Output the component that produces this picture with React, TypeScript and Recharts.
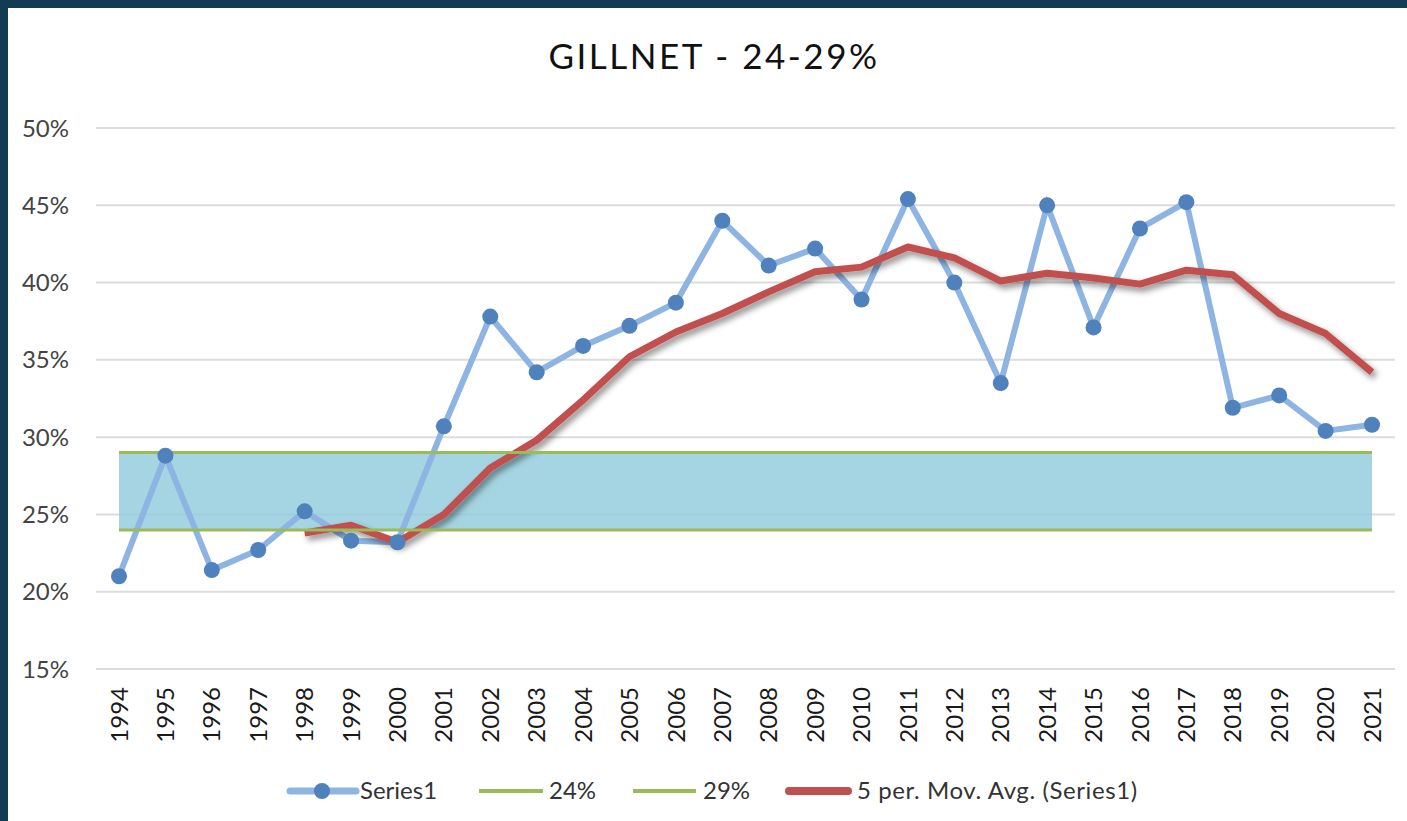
import { ComposedChart, Line, Area, XAxis, YAxis, CartesianGrid } from 'recharts';

const years = [
  '1994', '1995', '1996', '1997', '1998', '1999', '2000', '2001', '2002', '2003',
  '2004', '2005', '2006', '2007', '2008', '2009', '2010', '2011', '2012', '2013',
  '2014', '2015', '2016', '2017', '2018', '2019', '2020', '2021',
];

const series1 = [
  21.0, 28.8, 21.4, 22.7, 25.2, 23.3, 23.2, 30.7, 37.8, 34.2,
  35.9, 37.2, 38.7, 44.0, 41.1, 42.2, 38.9, 45.4, 40.0, 33.5,
  45.0, 37.1, 43.5, 45.2, 31.9, 32.7, 30.4, 30.8,
];

// 5 period moving average as drawn, first 4 years empty
const movingAvg = [
  null, null, null, null, 23.8, 24.3, 23.2, 25.0, 28.0, 29.8,
  32.4, 35.2, 36.8, 38.0, 39.4, 40.7, 41.0, 42.3, 41.6, 40.1,
  40.6, 40.3, 39.9, 40.8, 40.5, 38.0, 36.7, 34.2,
];

const low24 = years.map(() => 24);
const high29 = years.map(() => 29);

const yTicks = [15, 20, 25, 30, 35, 40, 45, 50];

const data = years.map((year, i) => ({
  year,
  s1: series1[i],
  ma: movingAvg[i],
  lo: low24[i],
  hi: high29[i],
}));

const FONT = 'Lato, "Open Sans", sans-serif';

const YearTick = ({ x, y, payload }: any) => (
  <text
    x={x}
    y={y}
    transform={`rotate(-90, ${x}, ${y})`}
    textAnchor="end"
    dy="0.36em"
    fontSize={24}
    fontFamily={FONT}
    fill="#1a1a1a"
  >
    {payload.value}
  </text>
);

export default function App() {
  return (
    <div style={{ position: 'fixed', left: 0, top: 0, width: 1407, height: 821, background: '#113C53' }}>
      <div style={{ position: 'absolute', left: 8, top: 8, width: 1399, height: 813, background: '#fff' }}>
        <ComposedChart
          width={1399}
          height={813}
          data={data}
          margin={{ top: 120, right: 12, bottom: 72, left: 0 }}
        >
          <defs>
            <filter id="maShadow" x="-10%" y="-30%" width="120%" height="160%">
              <feDropShadow dx="3" dy="4" stdDeviation="3" floodColor="#000" floodOpacity="0.45" />
            </filter>
          </defs>
          <CartesianGrid vertical={false} stroke="#dcdcdc" strokeWidth={2} />
          <XAxis
            dataKey="year"
            axisLine={false}
            tickLine={false}
            tickSize={0}
            tickMargin={18}
            height={80}
            interval={0}
            padding={{ left: 23, right: 23 }}
            tick={<YearTick />}
          />
          <YAxis
            domain={[15, 50]}
            ticks={yTicks}
            width={88}
            axisLine={false}
            tickLine={false}
            tickSize={0}
            tickMargin={27}
            tickFormatter={(v: number) => `${v}%`}
            tick={{ fontSize: 24, fontFamily: FONT, fill: '#444' }}
          />
          <Line
            dataKey="s1"
            stroke="#8DB4E2"
            strokeWidth={6}
            dot={{ r: 8, fill: '#4F81BD', stroke: 'none' }}
            activeDot={false}
            isAnimationActive={false}
          />
          <Line
            dataKey="ma"
            stroke="#C0504D"
            strokeWidth={7}
            strokeLinejoin="round"
            dot={false}
            activeDot={false}
            filter="url(#maShadow)"
            isAnimationActive={false}
          />
          {/* shaded 24-29% band */}
          <Area
            dataKey={(d: any) => [d.lo, d.hi]}
            stroke="none"
            fill="#8FCADB"
            fillOpacity={0.8}
            activeDot={false}
            isAnimationActive={false}
          />
          <Line dataKey="lo" stroke="#9BBB59" strokeWidth={3} dot={false} activeDot={false} isAnimationActive={false} />
          <Line dataKey="hi" stroke="#9BBB59" strokeWidth={3} dot={false} activeDot={false} isAnimationActive={false} />
        </ComposedChart>

        <svg width={1399} height={813} style={{ position: 'absolute', left: 0, top: 0, pointerEvents: 'none' }}>
          <text x={706} y={61} textAnchor="middle" fontSize={35} letterSpacing={2.5} fontFamily={FONT} fill="#111">
            GILLNET - 24-29%
          </text>
          <g fontFamily={FONT} fontSize={24} fill="#333">
            <line x1={282} y1={783} x2={348} y2={783} stroke="#8DB4E2" strokeWidth={7} strokeLinecap="round" />
            <circle cx={314} cy={783} r={8} fill="#4F81BD" />
            <text x={352} y={783} dy="0.35em">Series1</text>
            <line x1={471} y1={783} x2={535} y2={783} stroke="#9BBB59" strokeWidth={4} />
            <text x={541} y={783} dy="0.35em">24%</text>
            <line x1={625} y1={783} x2={688} y2={783} stroke="#9BBB59" strokeWidth={4} />
            <text x={695} y={783} dy="0.35em">29%</text>
            <line x1={781} y1={783} x2={840} y2={783} stroke="#C0504D" strokeWidth={8} strokeLinecap="round" />
            <text x={849} y={783} dy="0.35em" letterSpacing={0.6}>5 per. Mov. Avg. (Series1)</text>
          </g>
        </svg>
      </div>
    </div>
  );
}
